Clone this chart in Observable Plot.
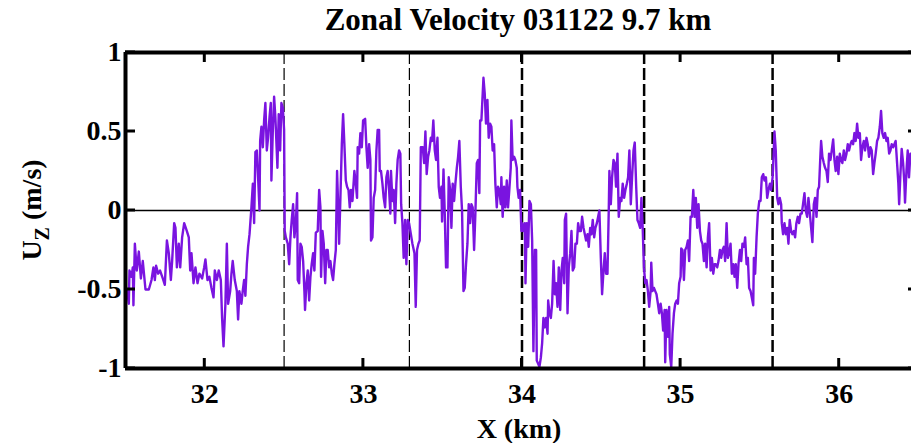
<!DOCTYPE html>
<html><head><meta charset="utf-8">
<script src="https://cdn.jsdelivr.net/npm/d3@7"></script>
<script src="https://cdn.jsdelivr.net/npm/@observablehq/plot@0.6"></script>
<style>
html,body{margin:0;padding:0;background:#fff;overflow:hidden}
#chart{width:911px;height:443px;overflow:hidden;position:relative}
#chart svg{max-width:none !important;display:block}
</style>
</head><body><div id="chart"></div>
<script>
const title = "Zonal Velocity 031122 9.7 km";
const xLabel = "X (km)";
const yLabelMain = "U";
const yLabelSub = "Z";
const yLabelUnit = " (m/s)";
const xTicks = [32, 33, 34, 35, 36];
const yTicks = [-1, -0.5, 0, 0.5, 1];
const xDomain = [31.5, 36.5];
const yDomain = [-1, 1];
const thinDashX = [32.5, 33.29];
const thickDashX = [34.0, 34.77, 35.58];

const xKm = [
31.511,31.521,31.525,31.538,31.546,31.550,31.559,31.571,31.584,31.597,
31.609,31.626,31.647,31.664,31.676,31.685,31.693,31.706,31.718,31.735,
31.748,31.761,31.773,31.786,31.794,31.807,31.815,31.824,31.836,31.845,
31.857,31.870,31.887,31.899,31.908,31.916,31.929,31.941,31.954,31.966,
31.983,31.996,32.004,32.017,32.029,32.042,32.055,32.063,32.076,32.088,
32.101,32.109,32.118,32.130,32.139,32.147,32.160,32.168,32.176,32.189,
32.202,32.210,32.218,32.231,32.239,32.248,32.256,32.265,32.273,32.282,
32.294,32.303,32.311,32.319,32.328,32.336,32.345,32.349,32.357,32.366,
32.374,32.382,32.391,32.399,32.408,32.416,32.420,32.429,32.437,32.445,
32.458,32.466,32.475,32.483,32.492,32.500,32.504,32.511,32.523,32.532,
32.540,32.548,32.557,32.565,32.574,32.582,32.586,32.595,32.603,32.611,
32.620,32.628,32.632,32.641,32.649,32.658,32.666,32.674,32.683,32.691,
32.700,32.712,32.721,32.729,32.733,32.742,32.750,32.759,32.767,32.775,
32.784,32.792,32.801,32.809,32.817,32.826,32.834,32.843,32.847,32.855,
32.864,32.872,32.880,32.889,32.897,32.906,32.914,32.922,32.931,32.943,
32.952,32.960,32.964,32.973,32.981,32.990,32.998,33.011,33.019,33.027,
33.036,33.044,33.048,33.057,33.065,33.074,33.082,33.090,33.099,33.103,
33.111,33.120,33.128,33.137,33.145,33.153,33.162,33.170,33.174,33.183,
33.191,33.200,33.208,33.216,33.225,33.233,33.238,33.246,33.254,33.263,
33.271,33.280,33.288,33.296,33.309,33.322,33.330,33.338,33.347,33.355,
33.362,33.374,33.383,33.391,33.399,33.408,33.416,33.425,33.433,33.441,
33.450,33.458,33.467,33.475,33.483,33.492,33.496,33.505,33.513,33.521,
33.530,33.538,33.547,33.555,33.563,33.572,33.580,33.589,33.597,33.605,
33.614,33.622,33.631,33.639,33.647,33.656,33.664,33.673,33.681,33.689,
33.698,33.706,33.715,33.723,33.731,33.736,33.744,33.757,33.765,33.773,
33.782,33.790,33.799,33.807,33.815,33.824,33.832,33.841,33.849,33.857,
33.866,33.870,33.878,33.887,33.895,33.904,33.912,33.920,33.929,33.933,
33.941,33.950,33.958,33.967,33.971,33.979,33.988,33.996,34.001,34.009,
34.018,34.022,34.030,34.039,34.047,34.056,34.064,34.072,34.081,34.089,
34.093,34.102,34.110,34.119,34.127,34.135,34.144,34.152,34.161,34.165,
34.173,34.182,34.190,34.199,34.207,34.215,34.224,34.232,34.241,34.249,
34.257,34.266,34.270,34.278,34.287,34.295,34.304,34.312,34.320,34.329,
34.337,34.346,34.354,34.362,34.371,34.379,34.388,34.396,34.404,34.413,
34.421,34.430,34.438,34.446,34.455,34.463,34.472,34.480,34.488,34.497,
34.505,34.514,34.522,34.530,34.539,34.547,34.551,34.560,34.568,34.577,
34.585,34.593,34.602,34.610,34.619,34.627,34.635,34.644,34.652,34.661,
34.669,34.677,34.686,34.694,34.703,34.711,34.720,34.728,34.736,34.745,
34.753,34.761,34.769,34.777,34.785,34.794,34.802,34.811,34.815,34.823,
34.832,34.840,34.848,34.857,34.865,34.874,34.882,34.890,34.899,34.903,
34.911,34.920,34.928,34.932,34.941,34.949,34.958,34.966,34.975,34.983,
34.991,35.000,35.004,35.012,35.021,35.029,35.038,35.046,35.054,35.063,
35.071,35.080,35.088,35.096,35.105,35.113,35.122,35.130,35.138,35.147,
35.155,35.164,35.172,35.180,35.189,35.197,35.206,35.214,35.222,35.231,
35.239,35.248,35.256,35.264,35.273,35.281,35.290,35.298,35.306,35.315,
35.323,35.332,35.340,35.348,35.357,35.365,35.374,35.382,35.390,35.399,
35.407,35.416,35.424,35.432,35.441,35.449,35.458,35.462,35.470,35.479,
35.487,35.496,35.504,35.512,35.521,35.529,35.538,35.546,35.554,35.563,
35.571,35.580,35.583,35.592,35.600,35.609,35.617,35.625,35.634,35.638,
35.646,35.655,35.663,35.672,35.680,35.688,35.697,35.705,35.714,35.722,
35.730,35.739,35.747,35.756,35.764,35.772,35.781,35.789,35.798,35.806,
35.815,35.823,35.831,35.840,35.848,35.857,35.865,35.873,35.882,35.886,
35.894,35.903,35.911,35.920,35.928,35.936,35.945,35.953,35.962,35.970,
35.978,35.987,35.995,36.004,36.012,36.020,36.029,36.037,36.046,36.054,
36.062,36.071,36.079,36.088,36.096,36.104,36.113,36.121,36.130,36.138,
36.146,36.155,36.163,36.172,36.180,36.188,36.197,36.205,36.214,36.222,
36.230,36.239,36.247,36.256,36.264,36.272,36.281,36.289,36.298,36.306,
36.315,36.323,36.331,36.340,36.348,36.356,36.365,36.373,36.378,36.386,
36.394,36.403,36.411,36.415,36.424,36.432,36.440,36.449,36.455
];

const uz = [
-0.51,-0.59,-0.38,-0.42,-0.36,-0.60,-0.21,-0.38,-0.26,-0.43,
-0.32,-0.50,-0.50,-0.44,-0.36,-0.44,-0.35,-0.40,-0.38,-0.43,
-0.47,-0.19,-0.27,-0.44,-0.32,-0.08,-0.11,-0.36,-0.21,-0.36,
-0.17,-0.08,-0.13,-0.17,-0.38,-0.27,-0.46,-0.36,-0.46,-0.40,
-0.43,-0.36,-0.31,-0.44,-0.42,-0.49,-0.55,-0.38,-0.44,-0.38,
-0.44,-0.68,-0.86,-0.59,-0.21,-0.59,-0.51,-0.40,-0.32,-0.44,
-0.51,-0.69,-0.51,-0.59,-0.51,-0.44,-0.54,-0.34,-0.23,-0.15,
0.02,0.17,-0.08,0.37,0.38,0.21,0.00,0.44,0.53,0.40,
0.57,0.68,0.38,0.46,0.59,0.68,0.19,0.51,0.72,0.59,
0.27,0.61,0.38,0.68,0.65,0.51,-0.13,-0.17,-0.21,-0.34,
-0.17,-0.06,0.04,-0.17,-0.08,0.11,-0.44,-0.46,-0.21,-0.23,
-0.32,-0.51,-0.63,-0.46,-0.38,-0.57,-0.42,-0.34,-0.27,-0.38,
-0.14,-0.13,0.13,0.02,-0.42,-0.13,-0.21,-0.46,-0.25,-0.25,
-0.36,-0.32,-0.40,-0.44,-0.34,-0.25,0.25,-0.04,-0.21,0.08,
0.42,0.61,0.42,0.19,0.15,0.13,0.02,0.13,0.06,0.25,
0.17,0.08,0.40,0.36,0.49,0.40,0.57,0.58,0.40,0.27,
0.42,0.32,-0.19,-0.17,0.08,0.13,0.38,0.51,0.51,0.25,
0.25,0.17,0.08,0.02,0.21,0.25,0.13,-0.02,0.25,0.06,
0.13,-0.08,0.17,0.32,0.38,0.36,0.04,-0.08,-0.30,-0.06,
-0.34,-0.06,-0.08,-0.13,-0.21,-0.27,-0.61,-0.25,-0.21,-0.19,
0.40,0.40,0.30,0.50,0.23,0.34,0.38,0.46,0.44,0.57,
0.38,0.32,0.46,0.15,0.08,0.15,-0.07,0.26,-0.02,-0.36,
-0.36,0.21,0.13,-0.11,0.17,0.06,0.17,0.27,0.34,0.44,
0.15,0.00,-0.51,-0.49,-0.34,-0.21,0.04,-0.08,0.04,0.02,
-0.25,-0.02,0.30,0.32,0.11,0.57,0.57,0.84,0.74,0.55,
0.70,0.46,0.55,0.53,0.38,0.42,0.17,0.02,0.15,0.13,
0.04,0.21,-0.04,0.15,0.02,0.19,0.02,0.13,0.27,0.57,
0.32,0.34,0.32,0.27,0.15,0.08,0.13,-0.13,-0.08,-0.13,
-0.08,-0.46,-0.08,-0.23,0.06,0.04,-0.19,-0.89,-0.25,-0.25,
-0.95,-0.97,-0.99,-0.93,-0.84,-0.68,-0.74,-0.68,-0.78,-0.57,
-0.65,-0.68,-0.59,-0.32,-0.53,-0.46,-0.61,-0.36,-0.63,-0.38,
-0.30,-0.46,-0.06,-0.02,-0.65,-0.36,-0.27,-0.13,-0.38,-0.36,
-0.21,-0.21,-0.08,-0.13,-0.13,-0.04,-0.11,-0.15,-0.19,-0.15,
-0.23,-0.11,-0.15,-0.06,-0.17,-0.11,-0.08,-0.04,0.00,-0.30,
-0.53,-0.38,-0.27,-0.40,-0.40,0.00,0.25,0.04,0.21,0.32,
0.30,0.15,0.36,-0.04,0.08,0.06,0.17,0.08,0.13,0.17,
0.21,0.38,0.04,0.21,0.38,0.43,0.15,-0.06,-0.08,-0.11,
0.08,-0.11,-0.36,-0.46,-0.44,-0.51,-0.61,-0.51,-0.33,-0.51,
-0.49,-0.51,-0.53,-0.59,-0.65,-0.59,-0.65,-0.76,-0.63,-0.96,
-0.63,-0.80,-0.61,-0.91,-0.99,-0.78,-0.65,-0.59,-0.57,-0.59,
-0.46,-0.42,-0.24,-0.25,-0.44,-0.25,-0.23,-0.19,-0.32,-0.04,
-0.04,0.13,-0.04,0.08,-0.11,0.04,-0.13,-0.19,-0.21,-0.32,
-0.21,-0.36,-0.17,-0.08,-0.38,-0.30,-0.40,-0.34,-0.34,-0.36,
-0.32,-0.25,-0.30,-0.25,-0.23,-0.32,-0.08,-0.30,-0.27,-0.21,
-0.40,-0.34,-0.42,-0.34,-0.49,-0.34,-0.25,-0.32,-0.21,-0.23,
-0.17,-0.34,-0.30,-0.49,-0.51,-0.55,-0.60,-0.30,-0.40,-0.17,
-0.02,0.06,0.06,0.21,0.23,0.19,0.21,0.08,0.13,0.17,
0.13,0.21,0.27,0.50,0.38,0.08,0.04,0.08,0.04,-0.08,
-0.15,-0.08,-0.15,-0.11,-0.21,-0.06,-0.13,-0.15,-0.13,-0.17,
-0.08,-0.04,-0.08,-0.02,-0.02,0.04,0.11,0.00,-0.04,0.08,
-0.02,-0.11,-0.20,0.04,0.08,-0.04,0.13,0.15,0.36,0.44,
0.34,0.30,0.27,0.25,0.18,0.36,0.32,0.38,0.45,0.32,
0.25,0.34,0.23,0.36,0.32,0.30,0.38,0.32,0.36,0.42,
0.38,0.42,0.44,0.42,0.49,0.44,0.55,0.46,0.49,0.32,
0.40,0.44,0.38,0.46,0.42,0.34,0.40,0.38,0.23,0.30,
0.36,0.44,0.46,0.53,0.63,0.49,0.46,0.49,0.44,0.46,
0.36,0.38,0.42,0.40,0.42,0.44,0.30,0.17,0.04,0.23,
0.39,0.30,0.17,0.05,0.25,0.38,0.21,0.36,0.30
];

const n = Math.min(xKm.length, uz.length);
const series = d3.range(n).map(i => ({x: xKm[i], u: uz[i]}));
const serif = "'Liberation Serif', 'Times New Roman', Times, serif";

const W = 930, H = 443, mL = 125, mR = 12, mT = 52, mB = 75;
const tickLen = 10;

const chart = Plot.plot({
  width: W,
  height: H,
  marginLeft: mL,
  marginRight: mR,
  marginTop: mT,
  marginBottom: mB,
  style: {fontFamily: serif, fontSize: "28px", fontWeight: "bold", color: "black", background: "white", maxWidth: "none"},
  x: {domain: xDomain},
  y: {domain: yDomain},
  marks: [
    Plot.ruleY([0], {stroke: "black", strokeWidth: 1.3}),
    Plot.ruleX(thinDashX, {stroke: "black", strokeWidth: 1.2, strokeDasharray: "12,4"}),
    Plot.ruleX(thickDashX, {stroke: "black", strokeWidth: 2.5, strokeDasharray: "12,4"}),
    Plot.line(series, {x: "x", y: "u", stroke: "#7a14e0", strokeWidth: 2.4, clip: true}),
    Plot.ruleX(xDomain, {stroke: "black", strokeWidth: 4}),
    Plot.ruleY(yDomain, {stroke: "black", strokeWidth: 4}),
    Plot.axisX(xTicks, {anchor: "bottom", tickSize: 0, tickPadding: 15, label: null, tickFormat: d => String(d)}),
    Plot.axisY(yTicks, {anchor: "left", tickSize: 0, tickPadding: 4, label: null, tickFormat: d => String(d)}),
    Plot.text([title], {frameAnchor: "top", lineAnchor: "middle", dy: -32, dx: -4, fontSize: 31, fontWeight: "bold"}),
    Plot.text([xLabel], {frameAnchor: "bottom", lineAnchor: "middle", dy: 61, dx: -3, fontSize: 28, fontWeight: "bold"})
  ]
});
document.getElementById("chart").appendChild(chart);

// inward tick marks, positioned with Plot's own scales
const sx = chart.scale("x"), sy = chart.scale("y");
const yTopPx = sy.apply(yDomain[1]), yBotPx = sy.apply(yDomain[0]);
const xLeftPx = sx.apply(xDomain[0]), xRightPx = sx.apply(xDomain[1]);
const tickGroup = d3.select(chart).append("g").attr("stroke", "black").attr("stroke-width", 3);
for (const t of xTicks) {
  const px = sx.apply(t);
  tickGroup.append("line").attr("x1", px).attr("x2", px).attr("y1", yBotPx).attr("y2", yBotPx - tickLen);
  tickGroup.append("line").attr("x1", px).attr("x2", px).attr("y1", yTopPx).attr("y2", yTopPx + tickLen);
}
for (const t of yTicks) {
  const py = sy.apply(t);
  tickGroup.append("line").attr("x1", xLeftPx).attr("x2", xLeftPx + tickLen).attr("y1", py).attr("y2", py);
  tickGroup.append("line").attr("x1", xRightPx).attr("x2", xRightPx - tickLen).attr("y1", py).attr("y2", py);
}

const yl = d3.select(chart).append("text")
  .attr("transform", "translate(41,210) rotate(-90)")
  .attr("text-anchor", "middle")
  .attr("font-family", serif)
  .attr("font-size", 28)
  .attr("font-weight", "bold")
  .attr("fill", "black");
yl.append("tspan").text(yLabelMain);
yl.append("tspan").attr("dy", 8).attr("font-size", 20).text(yLabelSub);
yl.append("tspan").attr("dy", -8).text(yLabelUnit);
</script>
</body></html>
